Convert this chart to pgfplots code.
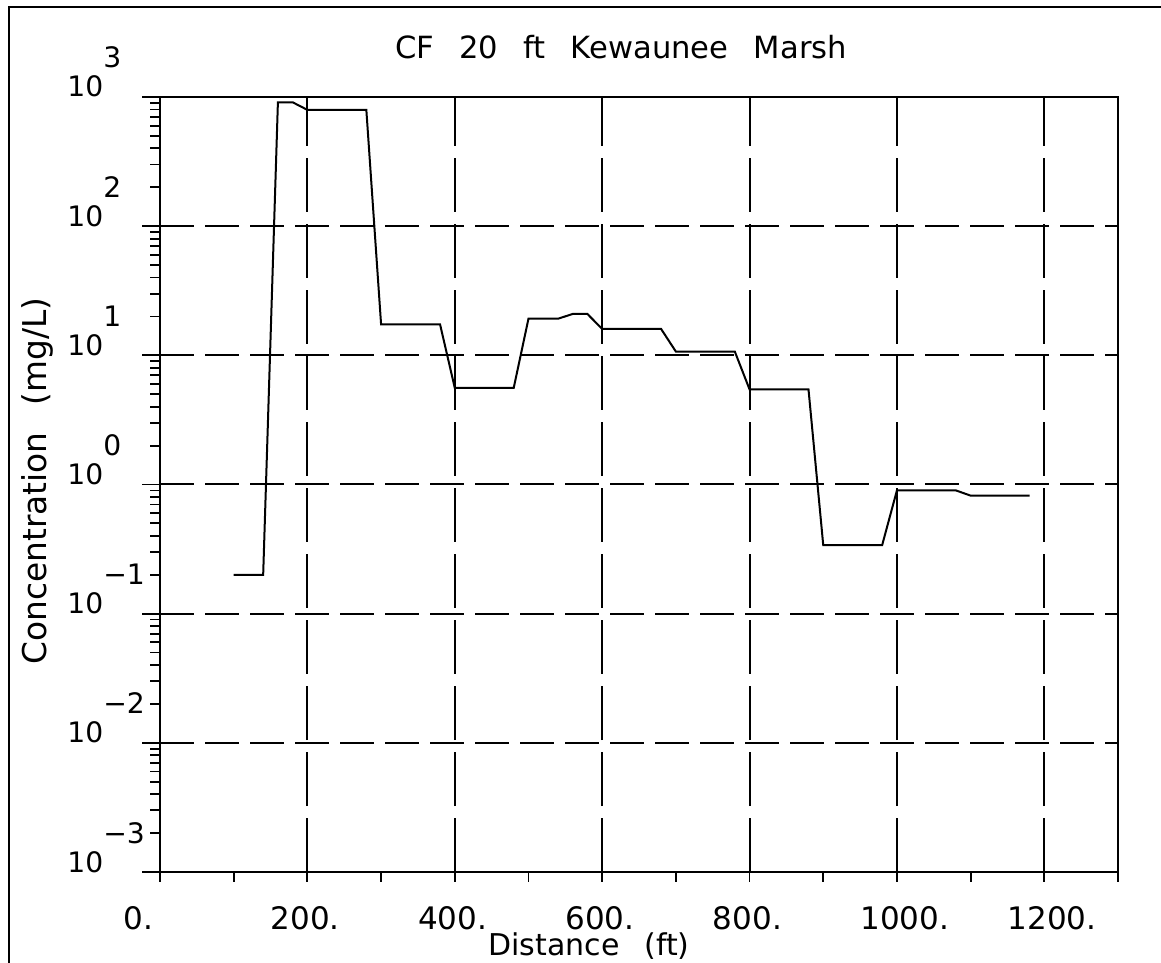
\documentclass[border=0pt]{standalone}
\usepackage{fontspec}
\setmainfont{DejaVu Sans}[WordSpace=2.6]
\usepackage{pgfplots}
\usepackage{pgfplotstable}
\pgfplotsset{compat=1.18}

% concentration along the transect, step profile
\pgfplotstableread{
dist conc
100  0.2
140  0.2
160  910
180  910
200  795
280  795
300  17.4
380  17.4
400  5.6
480  5.6
500  19.2
540  19.2
560  20.9
580  20.9
600  16.0
680  16.0
700  10.7
780  10.7
800  5.45
880  5.45
900  0.34
980  0.34
1000 0.90
1080 0.90
1100 0.82
1180 0.82
}\conctab

\newcommand\ex[1]{10\raisebox{14.5pt}{#1}}

\begin{document}
\begin{tikzpicture}
\useasboundingbox (0,0) rectangle (580.5pt,481.5pt);
\draw[line width=1pt] (4.5pt,0) -- (4.5pt,478pt) -- (580.5pt,478pt);
\begin{axis}[
  at={(80pt,45.5pt)}, anchor=south west,
  scale only axis, width=479pt, height=387.5pt,
  ymode=log,
  xmin=0, xmax=1300, ymin=1e-3, ymax=1e3,
  axis line style={line width=1.2pt},
  tick align=outside,
  xtick pos=bottom, ytick pos=left,
  major tick length=9pt, minor tick length=5pt,
  xtick={0,200,400,600,800,1000,1200},
  xticklabels={0.,200.,400.,600.,800.,1000.,1200.},
  minor xtick={0,100,...,1300},
  ytick={1e-3,1e-2,1e-1,1,10,100,1000},
  yticklabels={\ex{−3},\ex{−2},\ex{−1},\ex{0},\ex{1},\ex{2},\ex{3}},
  minor ytick={0.002,0.003,0.004,0.005,0.006,0.007,0.008,0.009,
               0.02,0.03,0.04,0.05,0.06,0.07,0.08,0.09,
               0.2,0.3,0.4,0.5,0.6,0.7,0.8,0.9,
               2,3,4,5,6,7,8,9,
               20,30,40,50,60,70,80,90,
               200,300,400,500,600,700,800,900},
  every tick/.style={black, line width=0.9pt},
  every major x tick/.style={draw=none},
  grid=major,
  major x grid style={black, line width=1pt, dash pattern=on 27pt off 6pt},
  major y grid style={black, line width=1pt, dash pattern=on 17pt off 5.5pt},
  xticklabel style={font=\fontsize{15.5}{18}\selectfont, anchor=base west,
                    inner sep=0pt, xshift=-18.5pt, yshift=-20pt},
  yticklabel style={font=\fontsize{14.1}{16}\selectfont, anchor=base west,
                    inner sep=0pt, xshift=-37.5pt},
]
\addplot[black, line width=1pt, mark=none] table[x=dist, y=conc] {\conctab};
\end{axis}
\node[font=\fontsize{15.3}{18}\selectfont, anchor=base] at (310.5pt,452pt)
  {CF 20 ft Kewaunee Marsh};
\node[font=\fontsize{15}{17}\selectfont, anchor=base west, inner sep=0pt]
  at (244pt,3.5pt) {Distance (ft)};
\node[font=\fontsize{16.4}{19}\selectfont, rotate=90, anchor=center] at (18.5pt,241pt)
  {Concentration (mg/L)};
\end{tikzpicture}
\end{document}
